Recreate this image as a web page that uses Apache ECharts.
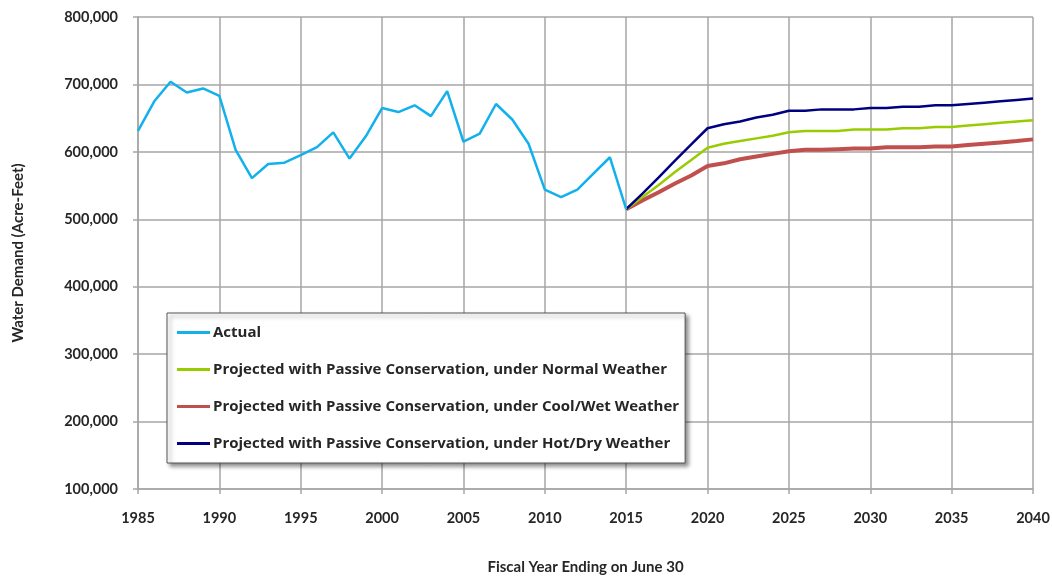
<!DOCTYPE html>
<html>
<head>
<meta charset="utf-8">
<script src="https://cdn.jsdelivr.net/npm/echarts@6/dist/echarts.min.js"></script>
<style>
html, body { margin: 0; padding: 0; background: #fff; }
#chart { width: 1052px; height: 577px; }
</style>
</head>
<body>
<div id="chart"></div>
<script>
// actual demand, fiscal years 1985-2015
var actualYears = [1985,1986,1987,1988,1989,1990,1991,1992,1993,1994,1995,1996,1997,1998,1999,
	2000,2001,2002,2003,2004,2005,2006,2007,2008,2009,2010,2011,2012,2013,2014,2015];
var actualValues = [631000,675000,704000,688000,694000,683000,603000,561000,582000,584000,595000,607000,629000,590000,623000,
	665000,659000,669000,653000,690000,615000,627000,671000,648000,612000,544000,533000,544000,568000,592000,515000];

// projections, 2015-2040
var projYears = [2015,2016,2017,2018,2019,2020,2021,2022,2023,2024,2025,2026,2027,2028,2029,
	2030,2031,2032,2033,2034,2035,2036,2037,2038,2039,2040];
var normalValues = [515000,533000,551000,570000,588000,606000,612000,616000,620000,624000,629000,631000,631000,631000,633000,
	633000,633000,635000,635000,637000,637000,639000,641000,643000,645000,647000];
var coolWetValues = [515000,528000,540000,553000,565000,579000,583000,589000,593000,597000,601000,603000,603000,604000,605000,
	605000,607000,607000,607000,608000,608000,610000,612000,614000,616000,618500];
var hotDryValues = [515000,538000,562000,587000,611000,635000,641000,645000,651000,655000,661000,661000,663000,663000,663000,
	665000,665000,667000,667000,669000,669000,671000,673000,675000,677000,679000];

var seriesNames = [
	'Actual',
	'Projected with Passive Conservation, under Normal Weather',
	'Projected with Passive Conservation, under Cool/Wet Weather',
	'Projected with Passive Conservation, under Hot/Dry Weather'
];
var seriesColors = ['#12b1ec', '#99cc00', '#c0504d', '#000080'];
var seriesWidths = [2.5, 2.5, 4, 2.5];

function pairs(xs, ys) {
	var out = [];
	for (var i = 0; i < xs.length; i++) {
		out.push([xs[i], ys[i]]);
	}
	return out;
}

var font = 'Lato, "Liberation Sans", sans-serif';
var myChart = echarts.init(document.getElementById('chart'));

// legend entries drawn as short flat bars, like the line swatches
var legendData = [];
for (var i = 0; i < seriesNames.length; i++) {
	legendData.push({
		name: seriesNames[i],
		icon: 'rect',
		itemStyle: { color: seriesColors[i] }
	});
}

var lineData = [
	pairs(actualYears, actualValues),
	pairs(projYears, normalValues),
	pairs(projYears, coolWetValues),
	pairs(projYears, hotDryValues)
];
var zOrder = [5, 3, 2, 4];
var series = [];
for (var i = 0; i < seriesNames.length; i++) {
	series.push({
		name: seriesNames[i],
		type: 'line',
		symbol: 'none',
		color: seriesColors[i],
		lineStyle: { width: seriesWidths[i], color: seriesColors[i] },
		data: lineData[i],
		z: zOrder[i]
	});
}

var option = {
	animation: false,
	grid: {
		left: 138,
		right: 19,
		top: 17,
		bottom: 88,
		outerBoundsMode: 'none'
	},
	legend: {
		orient: 'vertical',
		left: 167,
		top: 313,
		padding: [12, 6, 12, 10],
		itemGap: 22,
		itemWidth: 33,
		itemHeight: 3,
		backgroundColor: '#fff',
		borderColor: '#555',
		borderWidth: 1,
		shadowColor: 'rgba(0,0,0,0.45)',
		shadowBlur: 4,
		shadowOffsetX: 3,
		shadowOffsetY: 3,
		textStyle: {
			fontFamily: '"Open Sans", sans-serif',
			fontWeight: 'bold',
			fontSize: 15,
			color: '#262626',
			padding: [0, 0, 0, -2]
		},
		data: legendData
	},
	xAxis: {
		type: 'value',
		min: 1985,
		max: 2040,
		interval: 5,
		name: 'Fiscal Year Ending on June 30',
		nameLocation: 'middle',
		nameGap: 71,
		nameTextStyle: {
			fontFamily: font,
			fontWeight: 'bold',
			fontSize: 15,
			color: '#262626'
		},
		axisLine: { lineStyle: { color: '#a6a6a6', width: 1.5 } },
		axisTick: { show: true, length: 5, lineStyle: { color: '#a6a6a6', width: 1.5 } },
		axisLabel: {
			margin: 22,
			fontFamily: font,
			fontWeight: 'bold',
			fontSize: 14.5,
			color: '#262626',
			formatter: function (v) {
				return String(v);
			}
		},
		splitLine: { show: true, lineStyle: { color: '#a6a6a6', width: 1.5 } }
	},
	yAxis: {
		type: 'value',
		min: 100000,
		max: 800000,
		interval: 100000,
		name: 'Water Demand (Acre-Feet)',
		nameLocation: 'middle',
		nameGap: 112,
		nameTextStyle: {
			fontFamily: font,
			fontWeight: 'bold',
			fontSize: 15,
			color: '#262626'
		},
		axisLine: { show: true, lineStyle: { color: '#a6a6a6', width: 1.5 } },
		axisTick: { show: true, length: 5, lineStyle: { color: '#a6a6a6', width: 1.5 } },
		axisLabel: {
			margin: 20,
			fontFamily: font,
			fontWeight: 'bold',
			fontSize: 14.5,
			color: '#262626',
			formatter: function (v) {
				return v.toLocaleString('en-US');
			}
		},
		splitLine: { show: true, lineStyle: { color: '#a6a6a6', width: 1.5 } }
	},
	series: series
};

myChart.setOption(option);
</script>
</body>
</html>
